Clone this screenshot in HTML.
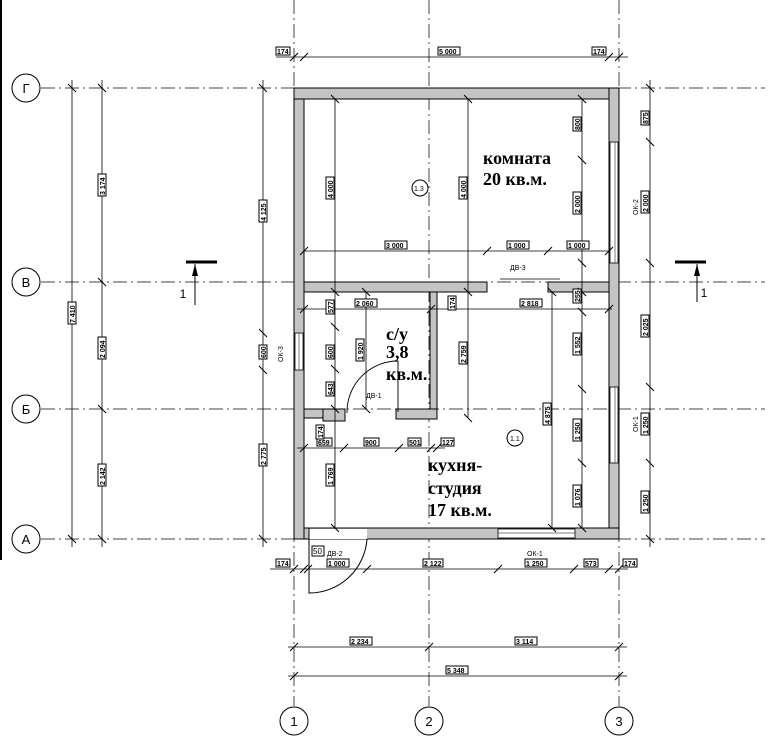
<!DOCTYPE html>
<html><head><meta charset="utf-8"><style>
html,body{margin:0;padding:0;background:#fff;}
svg{display:block;}
.ax{stroke:#444;stroke-width:1;stroke-dasharray:14,4,2,4;fill:none}
.d{stroke:#000;stroke-width:0.8;fill:none}
.t{stroke:#000;stroke-width:1}
.w{fill:#c4c4c4;stroke:#000;stroke-width:1}
.lb{font-family:"Liberation Sans",sans-serif;font-size:7px;fill:#000;font-weight:bold}
.bx{fill:#fff;stroke:#000;stroke-width:1}
.rm{font-family:"Liberation Serif",serif;font-weight:bold;font-size:18px;fill:#000}
.ci{fill:#fff;stroke:#000;stroke-width:1}
.cl{font-family:"Liberation Sans",sans-serif;font-size:13px;fill:#000;text-anchor:middle}
</style></head><body>
<svg width="777" height="745" viewBox="0 0 777 745" xmlns="http://www.w3.org/2000/svg">
<line x1="1" y1="0" x2="1" y2="560" stroke="#000" stroke-width="2"/>
<g class="ax">
<line x1="41" y1="88" x2="765" y2="88"/>
<line x1="41" y1="282" x2="765" y2="282"/>
<line x1="41" y1="409" x2="765" y2="409"/>
<line x1="41" y1="539" x2="765" y2="539"/>
<line x1="294" y1="0" x2="294" y2="706"/>
<line x1="429" y1="0" x2="429" y2="706"/>
<line x1="619" y1="0" x2="619" y2="706"/>
</g>
<g>
<circle class="ci" cx="26" cy="88" r="14"/><text class="cl" x="26" y="93">Г</text>
<circle class="ci" cx="26" cy="282" r="14"/><text class="cl" x="26" y="287">В</text>
<circle class="ci" cx="26" cy="409" r="14"/><text class="cl" x="26" y="414">Б</text>
<circle class="ci" cx="26" cy="539" r="14"/><text class="cl" x="26" y="544">А</text>
<circle class="ci" cx="294" cy="721" r="14"/><text class="cl" x="294" y="726">1</text>
<circle class="ci" cx="429" cy="721" r="14"/><text class="cl" x="429" y="726">2</text>
<circle class="ci" cx="619" cy="721" r="14"/><text class="cl" x="619" y="726">3</text>
</g>
<rect class="w" x="294" y="88" width="10" height="451"/>
<rect class="w" x="294" y="88" width="325" height="11"/>
<rect class="w" x="609" y="88" width="10" height="451"/>
<rect class="w" x="304" y="528" width="315" height="11"/>
<rect class="w" x="304" y="282" width="183" height="10"/>
<rect class="w" x="548" y="282" width="61" height="10"/>
<rect class="w" x="430" y="292" width="7" height="126"/>
<rect class="w" x="304" y="409" width="41" height="9"/>
<rect class="w" x="323" y="409" width="22" height="12"/>
<rect class="w" x="396" y="409" width="41" height="10"/>
<rect x="295" y="333" width="8" height="37" fill="#fff" stroke="#000" stroke-width="0.8"/>
<line x1="299" y1="333" x2="299" y2="370" stroke="#000" stroke-width="0.5"/>
<rect x="610" y="142" width="8" height="121" fill="#fff" stroke="#000" stroke-width="0.8"/>
<line x1="615" y1="142" x2="615" y2="263" stroke="#000" stroke-width="0.5"/>
<rect x="610" y="387" width="8" height="76" fill="#fff" stroke="#000" stroke-width="0.8"/>
<line x1="615" y1="387" x2="615" y2="463" stroke="#000" stroke-width="0.5"/>
<rect x="305" y="529" width="62" height="10" fill="#fff" stroke="none"/>
<rect x="304" y="528" width="5" height="11" class="w"/>
<rect x="498" y="529" width="77" height="9" fill="#fff" stroke="#000" stroke-width="0.8"/>
<line x1="498" y1="533" x2="575" y2="533" stroke="#000" stroke-width="0.5"/>
<path d="M309 539 L309 593 A58 58 0 0 0 367 539" fill="none" stroke="#000" stroke-width="1"/>
<path d="M347 413 A51 51 0 0 1 398 361 L398 412" fill="none" stroke="#000" stroke-width="0.9"/>
<line x1="500" y1="279" x2="560" y2="279" stroke="#000" stroke-width="0.8"/>
<text class="lb" x="366" y="398" style="font-weight:normal">ДВ-1</text>
<text class="lb" x="510" y="270" style="font-weight:normal">ДВ-3</text>
<text class="lb" x="327" y="556" style="font-weight:normal">ДВ-2</text>
<text class="lb" x="527" y="556" style="font-weight:normal">ОК-1</text>
<text class="lb" transform="translate(283,362) rotate(-90)" style="font-weight:normal">ОК-3</text>
<text class="lb" transform="translate(638,215) rotate(-90)" style="font-weight:normal">ОК-2</text>
<text class="lb" transform="translate(638,432) rotate(-90)" style="font-weight:normal">ОК-1</text>
<g class="d">
<line x1="276" y1="57" x2="628" y2="57"/>
<line x1="72" y1="80" x2="72" y2="547"/>
<line x1="102" y1="80" x2="102" y2="547"/>
<line x1="263" y1="80" x2="263" y2="547"/>
<line x1="650" y1="80" x2="650" y2="547"/>
<line x1="270" y1="569" x2="628" y2="569"/>
<line x1="288" y1="647" x2="627" y2="647"/>
<line x1="288" y1="676" x2="627" y2="676"/>
<line x1="304" y1="251" x2="609" y2="251"/>
<line x1="335" y1="99" x2="335" y2="528"/>
<line x1="468" y1="99" x2="468" y2="418"/>
<line x1="582" y1="99" x2="582" y2="528"/>
<line x1="366" y1="292" x2="366" y2="409"/>
<line x1="552" y1="292" x2="552" y2="528"/>
<line x1="297" y1="309" x2="612" y2="309"/>
<line x1="297" y1="448" x2="445" y2="448"/>
</g>
<g class="t">
<path d="M290 61l8-8M300 61l8-8M605 61l8-8M615 61l8-8
M290 573l8-8M300 573l8-8M304 573l8-8M363 573l8-8M494 573l8-8M570 573l8-8M605 573l8-8M615 573l8-8
M290 651l8-8M425 651l8-8M615 651l8-8M290 680l8-8M615 680l8-8
M300 255l8-8M483 255l8-8M544 255l8-8M605 255l8-8
M300 313l8-8M427 313l8-8M605 313l8-8
M300 452l8-8M340 452l8-8M395 452l8-8M427 452l8-8M433 452l8-8"/>
<path d="M68 84l8 8M68 535l8 8M98 84l8 8M98 278l8 8M98 405l8 8M98 535l8 8
M259 84l8 8M259 329l8 8M259 366l8 8M259 535l8 8
M646 84l8 8M646 138l8 8M646 259l8 8M646 383l8 8M646 459l8 8M646 535l8 8
M331 95l8 8M464 95l8 8M578 95l8 8M578 156l8 8M578 259l8 8
M331 288l8 8M331 323l8 8M331 365l8 8M331 405l8 8M331 524l8 8M362 288l8 8M362 405l8 8
M464 288l8 8M464 414l8 8M578 288l8 8M578 308l8 8M578 385l8 8M578 459l8 8M578 524l8 8M548 288l8 8M548 524l8 8"/>
</g>
<g>
<rect class="bx" x="276" y="47" width="14" height="8"/><text class="lb" x="277" y="54">174</text>
<rect class="bx" x="438" y="47" width="22" height="8"/><text class="lb" x="439" y="54">5 000</text>
<rect class="bx" x="592" y="47" width="14" height="8"/><text class="lb" x="593" y="54">174</text>
<rect class="bx" x="276" y="559" width="14" height="8"/><text class="lb" x="277" y="566">174</text>
<rect class="bx" x="312" y="546" width="12" height="10"/><text class="lb" x="313" y="554" style="font-size:8px;font-weight:normal">50</text>
<rect class="bx" x="327" y="559" width="22" height="8"/><text class="lb" x="328" y="566">1 000</text>
<rect class="bx" x="423" y="559" width="20" height="8"/><text class="lb" x="424" y="566">2 122</text>
<rect class="bx" x="525" y="559" width="22" height="8"/><text class="lb" x="526" y="566">1 250</text>
<rect class="bx" x="584" y="559" width="14" height="8"/><text class="lb" x="585" y="566">573</text>
<rect class="bx" x="623" y="559" width="14" height="8"/><text class="lb" x="624" y="566">174</text>
<rect class="bx" x="350" y="637" width="22" height="8"/><text class="lb" x="351" y="644">2 234</text>
<rect class="bx" x="515" y="637" width="22" height="8"/><text class="lb" x="516" y="644">3 114</text>
<rect class="bx" x="446" y="666" width="22" height="8"/><text class="lb" x="447" y="673">5 348</text>
<rect class="bx" x="385" y="241" width="22" height="8"/><text class="lb" x="386" y="248">3 000</text>
<rect class="bx" x="507" y="241" width="22" height="8"/><text class="lb" x="508" y="248">1 000</text>
<rect class="bx" x="567" y="241" width="22" height="8"/><text class="lb" x="568" y="248">1 000</text>
<rect class="bx" x="355" y="299" width="22" height="8"/><text class="lb" x="356" y="306">2 060</text>
<rect class="bx" x="520" y="299" width="22" height="8"/><text class="lb" x="521" y="306">2 818</text>
<rect class="bx" x="317" y="438" width="15" height="8"/><text class="lb" x="318" y="445">659</text>
<rect class="bx" x="364" y="438" width="15" height="8"/><text class="lb" x="365" y="445">900</text>
<rect class="bx" x="408" y="438" width="13" height="8"/><text class="lb" x="409" y="445">501</text>
<rect class="bx" x="441" y="438" width="13" height="8"/><text class="lb" x="442" y="445">127</text>
</g>
<g>
<g transform="translate(72,313) rotate(-90)"><rect class="bx" x="-11" y="-4" width="22" height="8"/><text class="lb" x="-10" y="3">7 410</text></g>
<g transform="translate(102,185) rotate(-90)"><rect class="bx" x="-11" y="-4" width="22" height="8"/><text class="lb" x="-10" y="3">3 174</text></g>
<g transform="translate(102,348) rotate(-90)"><rect class="bx" x="-11" y="-4" width="22" height="8"/><text class="lb" x="-10" y="3">2 094</text></g>
<g transform="translate(102,475) rotate(-90)"><rect class="bx" x="-11" y="-4" width="22" height="8"/><text class="lb" x="-10" y="3">2 142</text></g>
<g transform="translate(263,211) rotate(-90)"><rect class="bx" x="-11" y="-4" width="22" height="8"/><text class="lb" x="-10" y="3">4 125</text></g>
<g transform="translate(263,352) rotate(-90)"><rect class="bx" x="-7" y="-4" width="14" height="8"/><text class="lb" x="-6" y="3">600</text></g>
<g transform="translate(263,455) rotate(-90)"><rect class="bx" x="-11" y="-4" width="22" height="8"/><text class="lb" x="-10" y="3">2 775</text></g>
<g transform="translate(645,118) rotate(-90)"><rect class="bx" x="-7" y="-4" width="14" height="8"/><text class="lb" x="-6" y="3">875</text></g>
<g transform="translate(645,202) rotate(-90)"><rect class="bx" x="-11" y="-4" width="22" height="8"/><text class="lb" x="-10" y="3">2 000</text></g>
<g transform="translate(645,326) rotate(-90)"><rect class="bx" x="-11" y="-4" width="22" height="8"/><text class="lb" x="-10" y="3">2 025</text></g>
<g transform="translate(645,424) rotate(-90)"><rect class="bx" x="-11" y="-4" width="22" height="8"/><text class="lb" x="-10" y="3">1 250</text></g>
<g transform="translate(645,502) rotate(-90)"><rect class="bx" x="-11" y="-4" width="22" height="8"/><text class="lb" x="-10" y="3">1 250</text></g>
<g transform="translate(330,188) rotate(-90)"><rect class="bx" x="-11" y="-4" width="22" height="8"/><text class="lb" x="-10" y="3">4 000</text></g>
<g transform="translate(463,188) rotate(-90)"><rect class="bx" x="-11" y="-4" width="22" height="8"/><text class="lb" x="-10" y="3">4 000</text></g>
<g transform="translate(577,124) rotate(-90)"><rect class="bx" x="-7" y="-4" width="14" height="8"/><text class="lb" x="-6" y="3">800</text></g>
<g transform="translate(577,203) rotate(-90)"><rect class="bx" x="-11" y="-4" width="22" height="8"/><text class="lb" x="-10" y="3">2 000</text></g>
<g transform="translate(577,296) rotate(-90)"><rect class="bx" x="-7" y="-4" width="14" height="8"/><text class="lb" x="-6" y="3">255</text></g>
<g transform="translate(577,344) rotate(-90)"><rect class="bx" x="-11" y="-4" width="22" height="8"/><text class="lb" x="-10" y="3">1 552</text></g>
<g transform="translate(577,430) rotate(-90)"><rect class="bx" x="-11" y="-4" width="22" height="8"/><text class="lb" x="-10" y="3">1 250</text></g>
<g transform="translate(577,496) rotate(-90)"><rect class="bx" x="-11" y="-4" width="22" height="8"/><text class="lb" x="-10" y="3">1 076</text></g>
<g transform="translate(547,414) rotate(-90)"><rect class="bx" x="-11" y="-4" width="22" height="8"/><text class="lb" x="-10" y="3">4 875</text></g>
<g transform="translate(463,353) rotate(-90)"><rect class="bx" x="-11" y="-4" width="22" height="8"/><text class="lb" x="-10" y="3">2 759</text></g>
<g transform="translate(452,303) rotate(-90)"><rect class="bx" x="-7" y="-4" width="14" height="8"/><text class="lb" x="-6" y="3">174</text></g>
<g transform="translate(330,307) rotate(-90)"><rect class="bx" x="-7" y="-4" width="14" height="8"/><text class="lb" x="-6" y="3">577</text></g>
<g transform="translate(330,352) rotate(-90)"><rect class="bx" x="-7" y="-4" width="14" height="8"/><text class="lb" x="-6" y="3">600</text></g>
<g transform="translate(330,389) rotate(-90)"><rect class="bx" x="-7" y="-4" width="14" height="8"/><text class="lb" x="-6" y="3">643</text></g>
<g transform="translate(360,350) rotate(-90)"><rect class="bx" x="-11" y="-4" width="22" height="8"/><text class="lb" x="-10" y="3">1 920</text></g>
<g transform="translate(320,432) rotate(-90)"><rect class="bx" x="-7" y="-4" width="14" height="8"/><text class="lb" x="-6" y="3">174</text></g>
<g transform="translate(330,475) rotate(-90)"><rect class="bx" x="-11" y="-4" width="22" height="8"/><text class="lb" x="-10" y="3">1 769</text></g>
</g>
<g>
<line x1="186" y1="262" x2="217" y2="262" stroke="#000" stroke-width="3"/>
<line x1="195" y1="264" x2="195" y2="305" stroke="#000" stroke-width="1"/>
<path d="M192 276 L195 264 L198 276Z" fill="#000"/>
<text class="cl" x="183" y="298" style="font-size:12px">1</text>
<line x1="675" y1="262" x2="706" y2="262" stroke="#000" stroke-width="3"/>
<line x1="697" y1="264" x2="697" y2="302" stroke="#000" stroke-width="1"/>
<path d="M694 276 L697 264 L700 276Z" fill="#000"/>
<text class="cl" x="704" y="297" style="font-size:12px">1</text>
</g>
<circle class="ci" cx="420" cy="188" r="8" stroke-width="0.8"/><text class="lb" x="414" y="191" style="font-weight:normal">1.3</text>
<circle class="ci" cx="515" cy="438" r="8" stroke-width="0.8"/><text class="lb" x="510" y="441" style="font-weight:normal">1.1</text>
<text class="rm" x="483" y="164">комната</text>
<text class="rm" x="483" y="185">20 кв.м.</text>
<text class="rm" x="386" y="340">с/у</text>
<text class="rm" x="386" y="358">3,8</text>
<text class="rm" x="386" y="380">кв.м.</text>
<text class="rm" x="428" y="471">кухня-</text>
<text class="rm" x="428" y="494">студия</text>
<text class="rm" x="428" y="516">17 кв.м.</text>
</svg>
</body></html>
